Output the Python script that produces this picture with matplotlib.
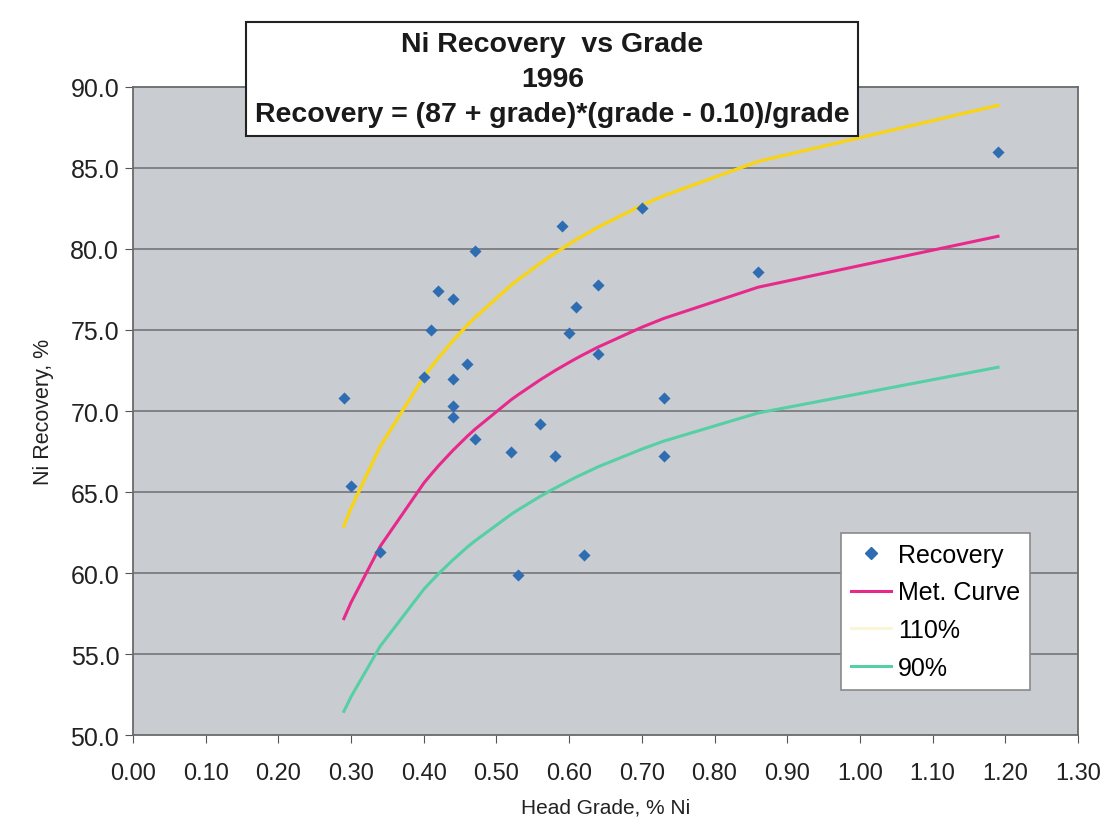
import matplotlib.pyplot as plt
from matplotlib.lines import Line2D

# measured points
grade = [0.29, 0.30, 0.34, 0.40, 0.41, 0.42, 0.44, 0.44, 0.44, 0.44, 0.46, 0.47,
         0.47, 0.52, 0.53, 0.56, 0.58, 0.59, 0.60, 0.61, 0.62, 0.64, 0.64, 0.70,
         0.73, 0.73, 0.86, 1.19]
recovery = [70.8, 65.4, 61.3, 72.1, 75.0, 77.4, 76.9, 72.0, 70.3, 69.6, 72.9, 79.9,
            68.3, 67.5, 59.9, 69.2, 67.2, 81.4, 74.8, 76.4, 61.1, 77.8, 73.5, 82.5,
            70.8, 67.2, 78.6, 86.0]

# curve knots (grades of the points above)
curve_grade = [0.29, 0.30, 0.34, 0.40, 0.41, 0.42, 0.44, 0.46, 0.47, 0.52, 0.53,
               0.56, 0.58, 0.60, 0.61, 0.62, 0.64, 0.70, 0.73, 0.86, 1.19]
met_curve = [57.19, 58.20, 61.65, 65.55, 66.09, 66.61, 67.57, 68.45, 68.86, 70.69,
             71.01, 71.92, 72.48, 73.00, 73.25, 73.49, 73.95, 75.17, 75.71, 77.64, 80.78]
curve_110 = [62.91, 64.02, 67.82, 72.11, 72.70, 73.27, 74.33, 75.30, 75.75, 77.76,
             78.11, 79.11, 79.73, 80.30, 80.58, 80.84, 81.35, 82.69, 83.28, 85.40, 88.86]
curve_90 = [51.47, 52.38, 55.49, 59.00, 59.48, 59.95, 60.81, 61.61, 61.97, 63.62,
            63.91, 64.73, 65.23, 65.70, 65.93, 66.14, 66.56, 67.65, 68.14, 69.88, 72.70]

x_ticks = [i / 10 for i in range(14)]
y_ticks = [50, 55, 60, 65, 70, 75, 80, 85, 90]

plt.rcParams['font.family'] = ['Liberation Sans', 'DejaVu Sans']

fig = plt.figure(figsize=(11.09, 8.29), dpi=100)
ax = fig.add_axes([0.12, 0.112, 0.852, 0.782])
ax.set_facecolor('#c9ccd1')

for y in y_ticks[1:-1]:
    ax.axhline(y, color='#6e6e6e', lw=1.1, zorder=1)

ax.plot(curve_grade, curve_110, color='#f7d417', lw=2.4, zorder=2)
ax.plot(curve_grade, met_curve, color='#e8298c', lw=2.2, zorder=2)
ax.plot(curve_grade, curve_90, color='#55cfa3', lw=2.2, zorder=2)
ax.scatter(grade, recovery, marker='D', s=38, color='#2f6db3', zorder=3, linewidths=0)

ax.set_xlim(0, 1.30)
ax.set_ylim(50, 90)
ax.set_xticks(x_ticks)
ax.set_xticklabels([f'{v:.2f}' for v in x_ticks])
ax.set_yticks(y_ticks)
ax.set_yticklabels([f'{v:.1f}' for v in y_ticks])
ax.tick_params(axis='both', direction='out', length=6, color='#555555', labelcolor='#222222')
ax.tick_params(axis='y', labelsize=18, pad=4)
ax.tick_params(axis='x', labelsize=17, pad=13)
for s in ax.spines.values():
    s.set_color('#6a6a6a')
    s.set_linewidth(1.3)

ax.set_xlabel('Head Grade, % Ni', fontsize=15, color='#222222', labelpad=10)
ax.set_ylabel('Ni Recovery, %', fontsize=15.5, color='#222222', labelpad=12)

handles = [
    Line2D([], [], marker='D', ls='none', color='#2f6db3', markersize=6),
    Line2D([], [], color='#e8298c', lw=2.2),
    Line2D([], [], color='#fbf6d8', lw=2.2),
    Line2D([], [], color='#55cfa3', lw=2.2),
]
leg = ax.legend(handles, ['Recovery', 'Met. Curve', '110%', '90%'],
                loc='lower right', bbox_to_anchor=(0.949, 0.07), fontsize=18,
                fancybox=False, framealpha=1, edgecolor='#8a8a8a',
                handlelength=1.6, handletextpad=0.25, labelspacing=0.55,
                borderpad=0.4, borderaxespad=0)
leg.get_frame().set_linewidth(1.2)

fig.text(0.498, 0.9035,
         'Ni Recovery  vs Grade\n1996\nRecovery = (87 + grade)*(grade - 0.10)/grade',
         ha='center', va='center', fontsize=20.5, fontweight='bold', color='#1a1a1a',
         linespacing=1.45,
         bbox=dict(boxstyle='square,pad=0.3', facecolor='white', edgecolor='#222222', lw=1.5))

fig.savefig('out.png', dpi=100)
